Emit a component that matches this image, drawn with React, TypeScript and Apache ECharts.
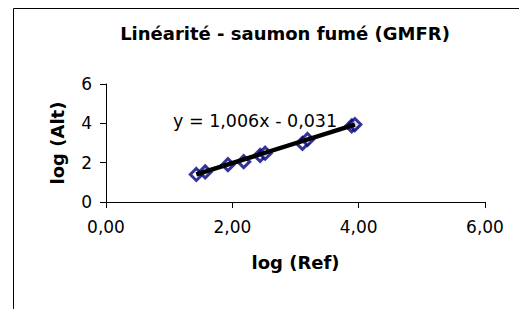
import React, { useEffect, useRef } from "react";
import * as echarts from "echarts";

const refLog = [1.43, 1.57, 1.93, 2.18, 2.44, 2.52, 3.11, 3.19, 3.89, 3.94];
const altLog = [1.4, 1.53, 1.9, 2.05, 2.37, 2.48, 2.98, 3.18, 3.87, 3.94];
const slope = 1.006;
const intercept = -0.031;
const titleText = "Linéarité - saumon fumé (GMFR)";
const xName = "log (Ref)";
const yName = "log (Alt)";
const equationText = "y = 1,006x - 0,031";

const FONT = "DejaVu Sans";

export default function App() {
  const ref = useRef<HTMLDivElement>(null);
  useEffect(() => {
    if (!ref.current) return;
    const chart = echarts.init(ref.current, null, { renderer: "svg" });
    const points = refLog.map((x, i) => [x, altLog[i]]);
    const xMin = Math.min(...refLog);
    const xMax = Math.max(...refLog);
    const trend = [
      [xMin, slope * xMin + intercept],
      [xMax, slope * xMax + intercept],
    ];
    chart.setOption({
      animation: false,
      backgroundColor: "#fff",
      title: {
        text: titleText,
        left: 280,
        top: 19,
        textAlign: "center",
        textStyle: { fontFamily: FONT, fontSize: 18, fontWeight: "bold", color: "#000" },
      },
      grid: { left: 106, right: 34, top: 84, bottom: 107, containLabel: false },
      xAxis: {
        type: "value",
        min: 0,
        max: 6,
        interval: 2,
        name: xName,
        nameLocation: "middle",
        nameGap: 51,
        nameTextStyle: { fontFamily: FONT, fontSize: 18, fontWeight: "bold", color: "#000" },
        axisLine: { show: true, onZero: false, lineStyle: { color: "#000", width: 1 } },
        axisTick: { show: true, inside: false, length: 6, lineStyle: { color: "#000" } },
        splitLine: { show: false },
        axisLabel: {
          margin: 16,
          fontFamily: FONT,
          fontSize: 17,
          color: "#000",
          formatter: (v: number) => v.toFixed(2).replace(".", ","),
        },
      },
      yAxis: {
        type: "value",
        min: 0,
        max: 6,
        interval: 2,
        name: yName,
        nameLocation: "middle",
        nameRotate: 90,
        nameGap: 40,
        nameTextStyle: { fontFamily: FONT, fontSize: 18, fontWeight: "bold", color: "#000" },
        axisLine: { show: true, onZero: false, lineStyle: { color: "#000", width: 1 } },
        axisTick: { show: true, inside: false, length: 6, lineStyle: { color: "#000" } },
        splitLine: { show: false },
        axisLabel: { margin: 14, fontFamily: FONT, fontSize: 17, color: "#000" },
      },
      graphic: [
        {
          type: "rect",
          shape: { x: 13.5, y: 8.5, width: 700, height: 500 },
          style: { fill: "none", stroke: "#000", lineWidth: 1 },
          silent: true,
          z: -10,
        },
        {
          type: "text",
          x: 173,
          y: 121,
          style: {
            text: equationText,
            fontFamily: FONT,
            fontSize: 17.5,
            fill: "#000",
            verticalAlign: "middle",
            align: "left",
          },
          z: 10,
        },
      ],
      series: [
        {
          type: "scatter",
          data: points,
          symbol: "diamond",
          symbolSize: [12, 12],
          itemStyle: { color: "#fff", borderColor: "#000080", borderWidth: 3 },
          z: 2,
        },
        {
          type: "line",
          data: trend,
          symbol: "none",
          lineStyle: { color: "#000", width: 4.5 },
          z: 3,
        },
      ],
    });
    return () => chart.dispose();
  }, []);
  return (
    <div
      ref={ref}
      style={{ position: "fixed", left: 0, top: 0, width: 519, height: 309 }}
    />
  );
}
